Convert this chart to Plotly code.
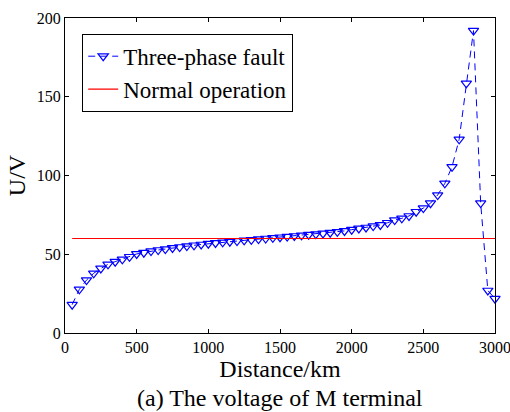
import plotly.graph_objects as go

distance_km = [50, 100, 150, 200, 250, 300, 350, 400, 450, 500,
               550, 600, 650, 700, 750, 800, 850, 900, 950, 1000,
               1050, 1100, 1150, 1200, 1250, 1300, 1350, 1400, 1450, 1500,
               1550, 1600, 1650, 1700, 1750, 1800, 1850, 1900, 1950, 2000,
               2050, 2100, 2150, 2200, 2250, 2300, 2350, 2400, 2450, 2500,
               2550, 2600, 2650, 2700, 2750, 2800, 2850, 2900, 2950, 3000]
fault_voltage = [18, 27.7, 33.6, 37.9, 41, 43.6, 45.3, 46.8, 48.4, 50.2,
                 51, 52, 52.7, 53.3, 54, 54.6, 55.2, 55.7, 56.2, 56.7,
                 57.2, 57.6, 58, 58.4, 58.8, 59.2, 59.6, 60, 60.4, 60.8,
                 61.2, 61.6, 62, 62.4, 62.8, 63.2, 63.7, 64.2, 64.8, 65.6,
                 66.4, 67, 67.9, 68.6, 70, 71.7, 72.8, 74.3, 77, 79.3,
                 82.4, 87.6, 95, 105.5, 123, 158.5, 192, 82.5, 27, 21.8]
normal_voltage = [60] * len(distance_km)

x_ticks = [0, 500, 1000, 1500, 2000, 2500, 3000]
y_ticks = [0, 50, 100, 150, 200]

FONT = "Liberation Serif, Times New Roman, serif"

fig = go.Figure()
fig.add_trace(go.Scatter(
    x=distance_km, y=fault_voltage, mode="lines+markers",
    name="Three-phase fault",
    line=dict(color="#0000ff", width=1, dash="7px,5px"),
    marker=dict(symbol="triangle-down-open", size=9, color="#0000ff",
                line=dict(width=1.2, color="#0000ff")),
    cliponaxis=False,
))
fig.add_trace(go.Scatter(
    x=distance_km, y=normal_voltage, mode="lines",
    name="Normal operation",
    line=dict(color="#ff0000", width=1.2),
))

axis_common = dict(
    showline=True, linecolor="black", linewidth=1, mirror="ticks",
    ticks="inside", ticklen=4, tickcolor="black", tickwidth=1,
    showgrid=False, zeroline=False, automargin=False,
    ticklabeloverflow="allow",
    tickfont=dict(family=FONT, size=16, color="black"),
)

fig.update_layout(
    width=510, height=412,
    margin=dict(l=65, r=15, t=18, b=79),
    paper_bgcolor="white", plot_bgcolor="white",
    font=dict(family=FONT, color="black"),
    showlegend=True,
    legend=dict(
        x=0.04, y=0.95, xanchor="left", yanchor="top",
        bgcolor="white", bordercolor="black", borderwidth=1,
        font=dict(family=FONT, size=23, color="black"),
        tracegroupgap=0, itemwidth=30,
    ),
    xaxis=dict(range=[0, 3000], tickvals=x_ticks,
               title=dict(text="Distance/km", standoff=0,
                          font=dict(family=FONT, size=24, color="black")),
               **axis_common),
    yaxis=dict(range=[0, 200], tickvals=y_ticks,
               title=dict(text="U/V", standoff=4,
                          font=dict(family=FONT, size=24, color="black")),
               **axis_common),
    annotations=[dict(
        text="(a) The voltage of M terminal", x=0.5, xref="paper",
        y=-0.16, yref="paper", yanchor="top", showarrow=False,
        font=dict(family=FONT, size=24, color="black"),
    )],
)

fig.write_html("out.html",
               config={"displayModeBar": False},
               post_script="document.body.style.margin='0';"
                           "document.body.style.overflow='hidden';")
